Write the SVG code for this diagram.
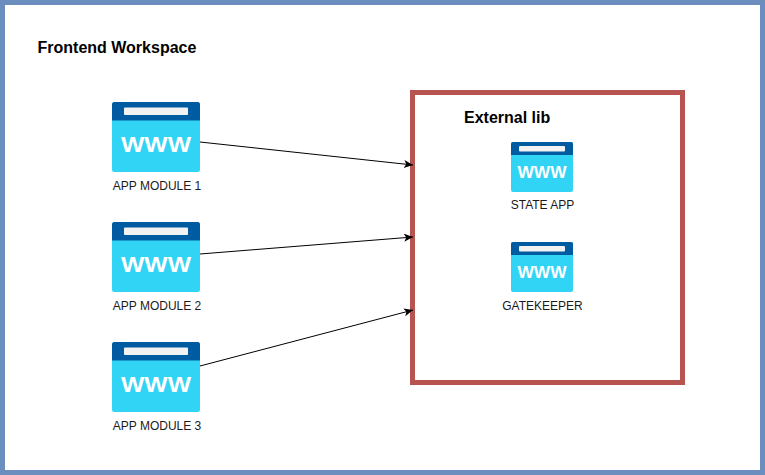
<svg xmlns="http://www.w3.org/2000/svg" width="765" height="475" viewBox="0 0 765 475">
<style>
text{font-family:"Liberation Sans",Arial,sans-serif;fill:#000}
.lbl{font-size:12px;text-anchor:middle;fill:#1a1a1a}
.title{font-size:16px;font-weight:bold}
.wb{font-family:"Liberation Sans",Arial,sans-serif;font-weight:bold;fill:#fff;text-anchor:middle}
.conn{fill:none;stroke:#000;stroke-width:1}
</style>
<defs>
<marker id="arr" markerUnits="userSpaceOnUse" markerWidth="10" markerHeight="10" refX="9" refY="4" orient="auto"><path d="M0 0L9 4L0 8L2.2 4Z" fill="#000"/></marker>
</defs>
<rect id="frame" x="2.5" y="2.5" width="760" height="470" fill="#fff" stroke="#6c8ebf" stroke-width="5"/>
<text class="title" x="37.500" y="53">Frontend Workspace</text>
<g id="external-lib">
<rect x="412.5" y="92.5" width="270" height="290" fill="#fff" stroke="#b85450" stroke-width="5"/>
<text class="title" x="464" y="123">External lib</text>
</g>
<g id="app-module-1">
<rect x="112" y="102" width="88" height="70" rx="2.5" fill="#32d4f5"/>
<path d="M112 120.500V104.500a2.500 2.500 0 0 1 2.500-2.500h83a2.500 2.500 0 0 1 2.500 2.500V120.500Z" fill="#005ba1"/>
<rect x="124" y="107.500" width="64" height="7.500" rx="1" fill="#f2f2f2"/>
<text class="wb" x="156" y="152" font-size="22" textLength="70" lengthAdjust="spacingAndGlyphs">WWW</text>
<text class="lbl" x="157" y="190">APP MODULE 1</text>
</g>
<g id="app-module-2">
<rect x="112" y="222" width="88" height="70" rx="2.5" fill="#32d4f5"/>
<path d="M112 240.500V224.500a2.500 2.500 0 0 1 2.500-2.500h83a2.500 2.500 0 0 1 2.500 2.500V240.500Z" fill="#005ba1"/>
<rect x="124" y="227.500" width="64" height="7.500" rx="1" fill="#f2f2f2"/>
<text class="wb" x="156" y="272" font-size="22" textLength="70" lengthAdjust="spacingAndGlyphs">WWW</text>
<text class="lbl" x="157" y="310">APP MODULE 2</text>
</g>
<g id="app-module-3">
<rect x="112" y="342" width="88" height="70" rx="2.5" fill="#32d4f5"/>
<path d="M112 360.500V344.500a2.500 2.500 0 0 1 2.500-2.500h83a2.500 2.500 0 0 1 2.500 2.500V360.500Z" fill="#005ba1"/>
<rect x="124" y="347.500" width="64" height="7.500" rx="1" fill="#f2f2f2"/>
<text class="wb" x="156" y="392" font-size="22" textLength="70" lengthAdjust="spacingAndGlyphs">WWW</text>
<text class="lbl" x="157" y="430">APP MODULE 3</text>
</g>
<g id="state-app">
<rect x="511" y="142" width="62" height="50" rx="2" fill="#32d4f5"/>
<path d="M511 155V144a2 2 0 0 1 2-2h58a2 2 0 0 1 2 2V155Z" fill="#005ba1"/>
<rect x="519" y="146" width="46" height="5.500" rx="1" fill="#f2f2f2"/>
<text class="wb" x="542" y="178" font-size="16" textLength="49" lengthAdjust="spacingAndGlyphs">WWW</text>
<text class="lbl" x="542.500" y="209">STATE APP</text>
</g>
<g id="gatekeeper">
<rect x="511" y="242" width="62" height="50" rx="2" fill="#32d4f5"/>
<path d="M511 255V244a2 2 0 0 1 2-2h58a2 2 0 0 1 2 2V255Z" fill="#005ba1"/>
<rect x="519" y="246" width="46" height="5.500" rx="1" fill="#f2f2f2"/>
<text class="wb" x="542" y="278" font-size="16" textLength="49" lengthAdjust="spacingAndGlyphs">WWW</text>
<text class="lbl" x="542.500" y="310">GATEKEEPER</text>
</g>
<g id="connectors">
<line class="conn" x1="200" y1="142" x2="413" y2="165" marker-end="url(#arr)"/>
<line class="conn" x1="200" y1="254" x2="413" y2="237" marker-end="url(#arr)"/>
<line class="conn" x1="200" y1="366" x2="413" y2="310" marker-end="url(#arr)"/>
</g>
</svg>
